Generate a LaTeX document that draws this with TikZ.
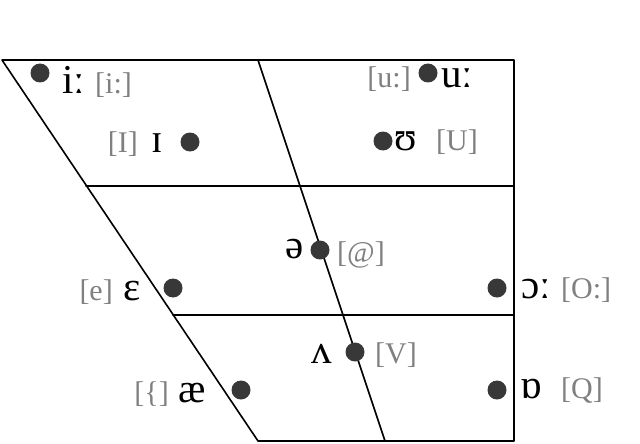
\documentclass[tikz,border=0pt]{standalone}
\usepackage{fontspec}
\setmainfont{Liberation Serif}
\definecolor{dotgray}{HTML}{383838}
\definecolor{sampagray}{HTML}{808080}
\tikzset{
  vdot/.style={circle, fill=dotgray, inner sep=0pt, minimum size=19pt},
  ipa/.style={inner sep=0pt, font=\fontsize{41}{43}\selectfont},
  sampa/.style={inner sep=0pt, text=sampagray, font=\fontsize{30}{32}\selectfont},
  grid/.style={line width=1.6pt}
}
\begin{document}
\begin{tikzpicture}[x=1pt, y=-1pt, line join=round, line cap=round]
\useasboundingbox (0,0) rectangle (640,444);
% trapezoid
\coordinate (tl) at (2,60);
\coordinate (tr) at (514,60);
\coordinate (br) at (514,441);
\coordinate (bl) at (258,441);
\coordinate (tm) at (258,60);
\coordinate (bm) at (385,441);
\draw[grid] (tl)--(tr)--(br)--(bl)--cycle;
\draw[grid] (tm)--(bm);
\draw[grid] (86,186)--(514,186);
\draw[grid] (173,315)--(514,315);
% vowels
\foreach \n/\x/\y in {i/40/73, I/190/142, u/428/73, U/383/141, schwa/320/250, e/173/288, O/497/288, V/355/352, ae/241/390, Q/497/390}
  \node[vdot] (dot-\n) at (\x,\y) {};
\node[ipa, anchor=base west] (ipa-i) at (62,93) {iː};
\node[sampa, anchor=base west] (sampa-i) at (95,93) {[i:]};
\node[sampa, anchor=base east] (sampa-I) at (138,152) {[I]};
\node[ipa, anchor=base west] (ipa-I) at (151,152) {ɪ};
\node[sampa, anchor=base east] (sampa-u) at (411,88) {[u:]};
\node[ipa, anchor=base west] (ipa-u) at (441,88) {uː};
\node[ipa, anchor=base west] (ipa-U) at (394,150) {ʊ};
\node[sampa, anchor=base west] (sampa-U) at (436,150) {[U]};
\node[ipa, anchor=base east] (ipa-schwa) at (304,258) {ə};
\node[sampa, anchor=base west] (sampa-schwa) at (337,262) {[@]};
\node[sampa, anchor=base east] (sampa-e) at (113,300) {[e]};
\node[ipa, anchor=base west] (ipa-e) at (123,300) {ɛ};
\node[ipa, anchor=base west] (ipa-O) at (521,298) {ɔː};
\node[sampa, anchor=base west] (sampa-O) at (561,298) {[O:]};
\node[ipa, anchor=base east] (ipa-V) at (332,363) {ʌ};
\node[sampa, anchor=base west] (sampa-V) at (375,363) {[V]};
\node[sampa, anchor=base east] (sampa-ae) at (169,402) {[\{]};
\node[ipa, anchor=base west] (ipa-ae) at (178,402) {æ};
\node[ipa, anchor=base west] (ipa-Q) at (520,398) {ɒ};
\node[sampa, anchor=base west] (sampa-Q) at (561,398) {[Q]};
\end{tikzpicture}
\end{document}
